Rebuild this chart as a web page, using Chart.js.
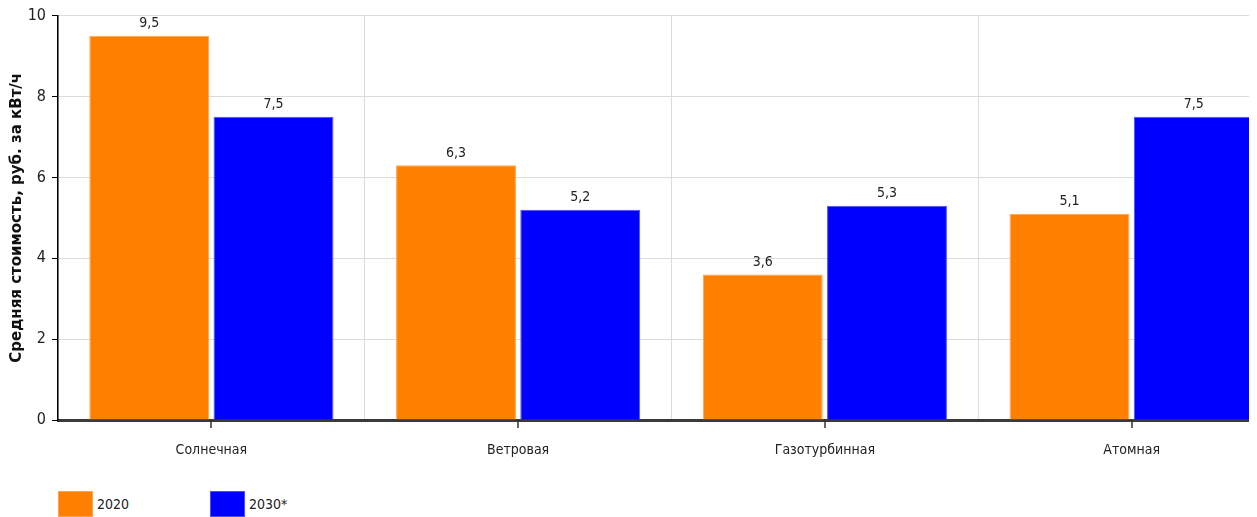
<!DOCTYPE html>
<html>
<head>
<meta charset="utf-8">
<script src="https://cdn.jsdelivr.net/npm/chart.js@4.4.1/dist/chart.umd.min.js"></script>
<style>
  body { margin: 0; background: #fff; width: 1257px; height: 517px; overflow: hidden; }
  .wrap { position: absolute; left: 0; top: 0; width: 1249px; height: 475px; overflow: hidden; }
  .legend { position: absolute; left: 58px; top: 491px; font: 14px "DejaVu Sans Condensed", "Arial Narrow", sans-serif; color: #222; }
  .item { position: absolute; top: 0; white-space: nowrap; }
  .box { position: absolute; left: 0; top: 0; width: 35px; height: 26px; box-sizing: border-box; }
  .txt { position: absolute; left: 39px; top: 5px; }
</style>
</head>
<body>
<div class="wrap"><canvas id="graph" width="1290" height="470"></canvas></div>
<div class="legend js-legend"></div>
<script>
const categories = ['Солнечная', 'Ветровая', 'Газотурбинная', 'Атомная'];
const values2020 = [9.5, 6.3, 3.6, 5.1];
const values2030 = [7.5, 5.2, 5.3, 7.5];
const seriesNames = ['2020', '2030*'];
const yTicks = [0, 2, 4, 6, 8, 10];

const colors = ['#ff8000', '#0000ff'];
const borders = ['#ffa44d', '#4d4dff'];
const narrow = '"DejaVu Sans Condensed", "Arial Narrow", sans-serif';

const fmt = (v) => v.toFixed(1).replace('.', ',');

// value labels above each bar + small tick under each category
const barLabels = {
    id: 'barLabels',
    afterDraw(chart) {
        const ctx = chart.ctx;
        ctx.save();
        ctx.font = '14px ' + narrow;
        ctx.fillStyle = '#222';
        ctx.textAlign = 'center';
        ctx.textBaseline = 'bottom';
        chart.data.datasets.forEach((ds, i) => {
            chart.getDatasetMeta(i).data.forEach((bar, j) => {
                ctx.fillText(fmt(ds.data[j]), bar.x, bar.y - 5);
            });
        });
        const x = chart.scales.x;
        const bottom = chart.chartArea.bottom;
        ctx.strokeStyle = '#333';
        ctx.lineWidth = 1.5;
        categories.forEach((c, j) => {
            const px = Math.round(x.getPixelForValue(j));
            ctx.beginPath();
            ctx.moveTo(px, bottom);
            ctx.lineTo(px, bottom + 8);
            ctx.stroke();
        });
        ctx.restore();
    }
};

const data = {
    labels: categories,
    datasets: [values2020, values2030].map((vals, i) => ({
        label: seriesNames[i],
        data: vals,
        backgroundColor: colors[i],
        borderColor: borders[i],
        borderWidth: 1,
        categoryPercentage: 0.81,
        barPercentage: 0.965
    }))
};

const config = {
    type: 'bar',
    data: data,
    options: {
        responsive: false,
        animation: false,
        layout: { padding: { top: 14, right: 5, left: 0, bottom: 0 } },
        plugins: {
            legend: false,
            tooltip: { enabled: false }
        },
        scales: {
            x: {
                afterFit: (s) => { s.height = 50; },
                grid: { color: '#dcdcdc', drawTicks: false, offset: true },
                border: { color: '#3a3a3a', width: 3 },
                ticks: { color: '#222', padding: 22, font: { family: narrow, size: 14 } }
            },
            y: {
                min: 0,
                max: 10,
                afterFit: (s) => { s.width = 58; },
                afterBuildTicks: (s) => { s.ticks = yTicks.map(v => ({ value: v })); },
                grid: { color: '#dcdcdc', tickColor: '#000', tickLength: 6 },
                border: { color: '#000', width: 1.5 },
                ticks: { color: '#222', padding: 6, font: { family: narrow, size: 16 } },
                title: {
                    display: true,
                    text: 'Средняя стоимость, руб. за кВт/ч',
                    color: '#111',
                    padding: { top: 8, bottom: 0 },
                    font: { family: '"DejaVu Sans", Verdana, sans-serif', size: 15, weight: 'bold' }
                }
            }
        }
    },
    plugins: [barLabels]
};

document.addEventListener('DOMContentLoaded', function() {
    const legend = document.querySelector('.js-legend');
    seriesNames.forEach((name, i) => {
        legend.innerHTML += `<div class="item" style="left:${i * 152}px">
            <div class="box" style="background:${colors[i]};border:1px solid ${borders[i]}"></div>
            <span class="txt">${name}</span></div>`;
    });

    const graph = document.querySelector('#graph').getContext('2d');
    new Chart(graph, config);
});
</script>
</body>
</html>
